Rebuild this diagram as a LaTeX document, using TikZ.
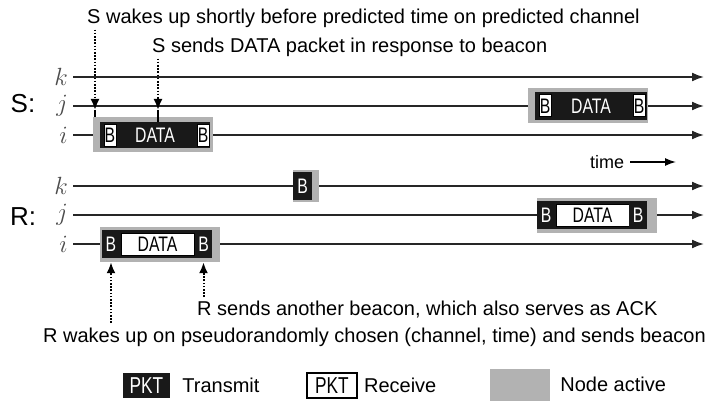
\documentclass[tikz,border=0pt]{standalone}
\usepackage{fontspec}
\setmainfont{Liberation Sans}
\newfontfamily\narrowfont[FakeStretch=0.75]{Liberation Sans}
\usetikzlibrary{arrows.meta,positioning}

\begin{document}
\begin{tikzpicture}[
    x=1pt, y=-1pt,
    caption/.style={anchor=west, inner sep=0pt, font=\fontsize{20}{24}\selectfont},
    nodename/.style={inner sep=0pt, font=\fontsize{26}{30}\selectfont},
    chanlabel/.style={anchor=east, inner sep=0pt, text=black!70, font=\fontsize{24}{26}\selectfont},
    channel/.style={-{Latex[length=12pt,width=9pt]}, line width=1.8pt, draw=black!85},
    active/.style={rectangle, fill=black!30, inner sep=0pt},
    txbox/.style={rectangle, fill=black!90, inner sep=0pt, text=white, font=\narrowfont\fontsize{21}{21}\selectfont},
    rxbox/.style={rectangle, fill=white, draw=black, line width=1pt, inner sep=0pt, font=\narrowfont\fontsize{21}{21}\selectfont},
    wake/.style={-{Latex[length=11pt,width=9pt]}, dash pattern=on 1.6pt off 1.6pt, line width=2pt},
    timearrow/.style={-{Latex[length=11pt,width=8pt]}, line width=1.5pt}
]
\useasboundingbox (0,0) rectangle (706,401);

\node[caption] (t1) at (87,18) {S wakes up shortly before predicted time on predicted channel};
\node[caption] (t2) at (152,47) {S sends DATA packet in response to beacon};

\node[nodename] (sname) at (23,104) {S:};
\node[chanlabel] (skl) at (68,77) {$k$};
\node[chanlabel] (sjl) at (68,106) {$j$};
\node[chanlabel] (sil) at (68,135) {$i$};
\coordinate (skend) at (704,77);
\coordinate (sjend) at (704,106);
\coordinate (siend) at (704,135);
\draw[channel] ([xshift=5pt]skl.east |- skend) -- (skend);
\draw[channel] ([xshift=5pt]sjl.east |- sjend) -- (sjend);
\draw[channel] ([xshift=5pt]sil.east |- siend) -- (siend);

\node[active, minimum width=120pt, minimum height=35pt] (sia) at (153,134.5) {};
\node[txbox, minimum width=110pt, minimum height=26pt] (sid) at (155,135) {DATA};
\node[rxbox, minimum width=12pt, minimum height=22pt] (sib1) at (110,135) {B};
\node[rxbox, minimum width=12pt, minimum height=22pt] (sib2) at (203,135) {B};

\node[active, minimum width=120pt, minimum height=35pt] (sja) at (588,105.5) {};
\node[txbox, minimum width=112pt, minimum height=28pt] (sjd) at (591,106) {DATA};
\node[rxbox, minimum width=12pt, minimum height=22pt] (sjb1) at (545,106) {B};
\node[rxbox, minimum width=12pt, minimum height=22pt] (sjb2) at (639,106) {B};

\coordinate (swake) at (95,110);
\coordinate (ssend) at (158,110);
\draw[wake] ([xshift=8pt,yshift=-2pt]t1.south west) -- (swake);
\draw[wake] ([xshift=6pt,yshift=-2pt]t2.south west) -- (ssend);
\draw[line width=1.5pt] (swake) -- (swake |- sia.north);
\draw[line width=1.5pt] (ssend) -- (ssend |- sid.north);

\node[font=\fontsize{18}{20}\selectfont, anchor=west, inner sep=0pt] (time) at (590,162) {time};
\coordinate (timeend) at (676,162);
\draw[timearrow] ([xshift=6pt]time.east) -- (timeend);

\node[nodename] (rname) at (23,217) {R:};
\node[chanlabel] (rkl) at (68,186) {$k$};
\node[chanlabel] (rjl) at (68,215) {$j$};
\node[chanlabel] (ril) at (68,244) {$i$};
\coordinate (rkend) at (704,186);
\coordinate (rjend) at (704,215);
\coordinate (riend) at (704,244);
\draw[channel] ([xshift=5pt]rkl.east |- rkend) -- (rkend);
\draw[channel] ([xshift=5pt]rjl.east |- rjend) -- (rjend);
\draw[channel] ([xshift=5pt]ril.east |- riend) -- (riend);

\node[active, minimum width=26pt, minimum height=32pt] (rka) at (306,186) {};
\node[txbox, minimum width=19pt, minimum height=28pt] (rkb) at (302.5,186) {B};

\node[active, minimum width=120pt, minimum height=35pt] (ria) at (160,244.5) {};
\node[txbox, minimum width=110pt, minimum height=28pt] (rif) at (157,244) {};
\node[rxbox, minimum width=73pt, minimum height=22pt] (rid) at (157.5,244) {DATA};
\node[txbox, minimum width=18pt, minimum height=28pt] (rib1) at (111,244) {B};
\node[txbox, minimum width=17pt, minimum height=28pt] (rib2) at (203.5,244) {B};

\node[active, minimum width=120pt, minimum height=35pt] (rja) at (597,215.5) {};
\node[txbox, minimum width=110pt, minimum height=28pt] (rjf) at (592,215) {};
\node[rxbox, minimum width=73pt, minimum height=22pt] (rjd) at (592.5,215) {DATA};
\node[txbox, minimum width=18pt, minimum height=28pt] (rjb1) at (546,215) {B};
\node[txbox, minimum width=18pt, minimum height=28pt] (rjb2) at (638,215) {B};

\node[caption] (t3) at (197,310) {R sends another beacon, which also serves as ACK};
\node[caption] (t4) at (43,337) {R wakes up on pseudorandomly chosen (channel, time) and sends beacon};
\coordinate (rwake) at (111,323);
\coordinate (rack) at (203.5,297);
\draw[wake] (rwake) -- (rib1.south |- ria.south);
\draw[wake] (rack) -- (rib2.south |- ria.south);

\node[txbox, minimum width=47pt, minimum height=25pt, font=\narrowfont\fontsize{23}{23}\selectfont] (lgtx) at (146.5,385.5) {PKT};
\node[caption, right=12pt of lgtx] (lgtxt) {Transmit};
\node[rxbox, line width=1.8pt, minimum width=50pt, minimum height=25pt, font=\narrowfont\fontsize{23}{23}\selectfont] (lgrx) at (332,385.5) {PKT};
\node[caption, right=6pt of lgrx] (lgrxt) {Receive};
\node[active, minimum width=60pt, minimum height=32pt] (lgact) at (520,384.5) {};
\node[caption, right=10pt of lgact] (lgactt) {Node active};
\end{tikzpicture}
\end{document}
